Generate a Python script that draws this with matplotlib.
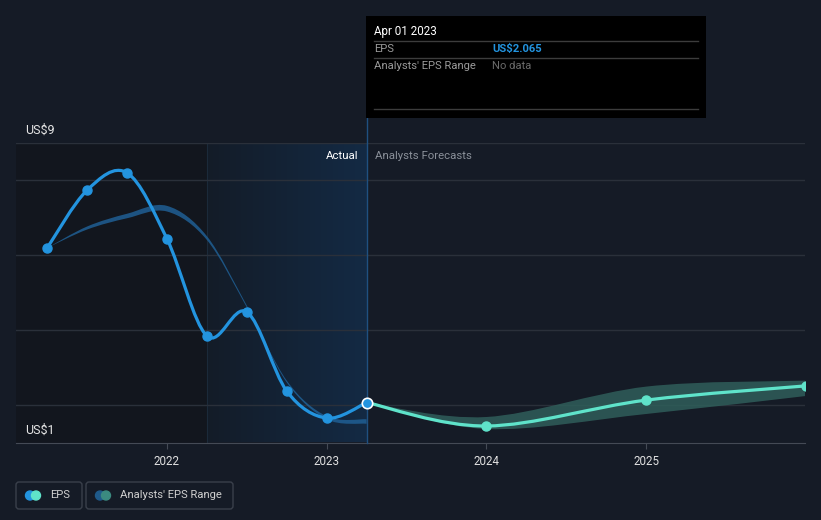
import numpy as np
import matplotlib.pyplot as plt
from matplotlib.path import Path
from matplotlib.patches import PathPatch, Rectangle, FancyBboxPatch, Circle
from matplotlib.colors import LinearSegmentedColormap

plt.rcParams['font.family'] = ['Roboto', 'DejaVu Sans']

# --- data ---
eps_x = [2021.25, 2021.5, 2021.75, 2022.0, 2022.25, 2022.5, 2022.75, 2023.0, 2023.25]
eps_y = [6.19, 7.73, 8.19, 6.43, 3.84, 4.48, 2.37, 1.65, 2.065]

fc_x = [2023.25, 2024.0, 2025.0, 2026.0]
fc_y = [2.065, 1.44, 2.13, 2.51]
fc_low = [2.065, 1.36, 1.76, 2.24]
fc_high = [2.065, 1.68, 2.49, 2.65]

past_x = [2021.25, 2021.5, 2021.75, 2022.0, 2022.25, 2022.5, 2022.75, 2023.0, 2023.25]
past_low = [6.19, 6.68, 6.98, 7.16, 6.40, 4.60, 2.60, 1.62, 1.50]
past_high = [6.19, 6.76, 7.10, 7.31, 6.50, 4.65, 2.65, 1.70, 1.62]

year_ticks = [2022, 2023, 2024, 2025]
y_labels = {9: 'US$9', 1: 'US$1'}
grid_vals = [2, 4, 6, 8, 9]

BG = '#151b26'
BLUE = '#2394df'
TEAL = '#5fe3ca'


def smooth_verts(xs, ys):
    # Catmull-Rom -> cubic bezier control points
    p = np.column_stack([xs, ys]).astype(float)
    ext = np.vstack([p[0], p, p[-1]])
    verts = [tuple(p[0])]
    codes = [Path.MOVETO]
    for i in range(len(p) - 1):
        p0, p1, p2, p3 = ext[i], ext[i + 1], ext[i + 2], ext[i + 3]
        c1 = p1 + (p2 - p0) / 6
        c2 = p2 - (p3 - p1) / 6
        verts += [tuple(c1), tuple(c2), tuple(p2)]
        codes += [Path.CURVE4] * 3
    return verts, codes


def smooth_line(ax, xs, ys, **kw):
    v, c = smooth_verts(xs, ys)
    ax.add_patch(PathPatch(Path(v, c), fill=False, **kw))


def smooth_band(ax, xs, lo, hi, **kw):
    v1, c1 = smooth_verts(xs, hi)
    v2, c2 = smooth_verts(xs[::-1], lo[::-1])
    verts = v1 + v2 + [v1[0]]
    codes = c1 + [Path.LINETO] + c2[1:] + [Path.CLOSEPOLY]
    ax.add_patch(PathPatch(Path(verts, codes), linewidth=0, **kw))


fig = plt.figure(figsize=(8.21, 5.2), dpi=100)
fig.patch.set_facecolor(BG)

ax = fig.add_axes([16 / 821, 1 - 442.5 / 520, 789 / 821, 300 / 520])
ax.set_facecolor(BG)
x0 = 2022 + (16 - 167) / 159.7
x1 = 2022 + (805 - 167) / 159.7
ax.set_xlim(x0, x1)
ax.set_ylim(1, 9)

# background regions
ax.axvspan(x0, 2022.25, color='#12161e', zorder=0, lw=0)
grad = np.linspace(0, 1, 256).reshape(1, -1)
cmap = LinearSegmentedColormap.from_list('g', ['#141c28', '#132a44'])
ax.imshow(grad, extent=[2022.25, 2023.25, 1, 9], aspect='auto', cmap=cmap, zorder=0.5)
ax.axvline(2022.25, color='#1b2a3a', lw=0.8, zorder=0.6)

for g in grid_vals:
    ax.axhline(g, color='#2a303a', lw=1, zorder=1)

# bands
smooth_band(ax, past_x, past_low, past_high, color='#1f5f94', alpha=0.85, zorder=2)
smooth_band(ax, fc_x, fc_low, fc_high, color='#2f5e5a', alpha=0.85, zorder=2)

# lines
smooth_line(ax, eps_x, eps_y, edgecolor=BLUE, linewidth=2.3, zorder=3, capstyle='round')
smooth_line(ax, fc_x, fc_y, edgecolor=TEAL, linewidth=2.3, zorder=3, capstyle='round')
ax.plot(eps_x[:-1], eps_y[:-1], 'o', color=BLUE, markersize=6.5, zorder=4)
ax.plot(fc_x[1:], fc_y[1:], 'o', color=TEAL, markersize=6.5, zorder=4)
ax.plot(eps_x[-1:], eps_y[-1:], 'o', color=BLUE, markersize=7.5,
        markeredgecolor='white', markeredgewidth=1.2, zorder=5)

# divider line at the tooltip date
ax.plot([2023.25, 2023.25], [1, 9.73], color='#1f5080', lw=1, zorder=3, clip_on=False)

ax.text(2023.25 - 0.05, 8.64, 'Actual', color='#ffffff', fontsize=8.2, ha='right', va='center')
ax.text(2023.25 + 0.05, 8.64, 'Analysts Forecasts', color='#8a9099', fontsize=8.2, ha='left', va='center')

for v, s in y_labels.items():
    ax.text(x0 + 0.06, v + 0.32, s, color='#e6e6e6', fontsize=9, ha='left', va='center')

for s in ['top', 'right', 'left']:
    ax.spines[s].set_visible(False)
ax.spines['bottom'].set_color('#444a55')
ax.set_yticks([])
ax.set_xticks(year_ticks)
ax.set_xticklabels([str(t) for t in year_ticks])
ax.tick_params(axis='x', colors='#444a55', labelcolor='#e0e0e0', labelsize=8.4, length=4, pad=5)

# overlay in pixel coordinates for tooltip and legend
ov = fig.add_axes([0, 0, 1, 1], zorder=10)
ov.set_xlim(0, 821)
ov.set_ylim(520, 0)
ov.axis('off')
ov.patch.set_alpha(0)

ov.add_patch(Rectangle((366, 16), 340, 102, facecolor='#000000', edgecolor='none'))
for yy in [41, 58, 109]:
    ov.plot([374, 698], [yy, yy], color='#3c3c3c', lw=1)
ov.text(374, 31, 'Apr 01 2023', color='#ffffff', fontsize=8.4, va='center')
ov.text(374, 49, 'EPS', color='#9a9a9a', fontsize=8.1, va='center')
ov.text(492, 49, 'US$2.065', color=BLUE, fontsize=8.1, va='center', fontweight='bold')
ov.text(374, 66, "Analysts' EPS Range", color='#9a9a9a', fontsize=8.1, va='center')
ov.text(492, 66, 'No data', color='#6a6a6a', fontsize=8.1, va='center')

# legend
legend_items = [('EPS', 16, 66, BLUE, TEAL), ("Analysts' EPS Range", 86, 147, '#1f5a8a', '#3b8a80')]
for label, lx, lw, c1, c2 in legend_items:
    ov.add_patch(FancyBboxPatch((lx, 482), lw, 27, boxstyle='round,pad=0,rounding_size=3',
                                facecolor='none', edgecolor='#3a404b', lw=1))
    ov.add_patch(Circle((lx + 14, 495.5), 4.5, color=c1))
    ov.add_patch(Circle((lx + 20, 495.5), 4.5, color=c2))
    ov.text(lx + 34, 495.5, label, color='#d0d0d0', fontsize=8.1, va='center')

fig.savefig('out.png', dpi=100, facecolor=BG)
